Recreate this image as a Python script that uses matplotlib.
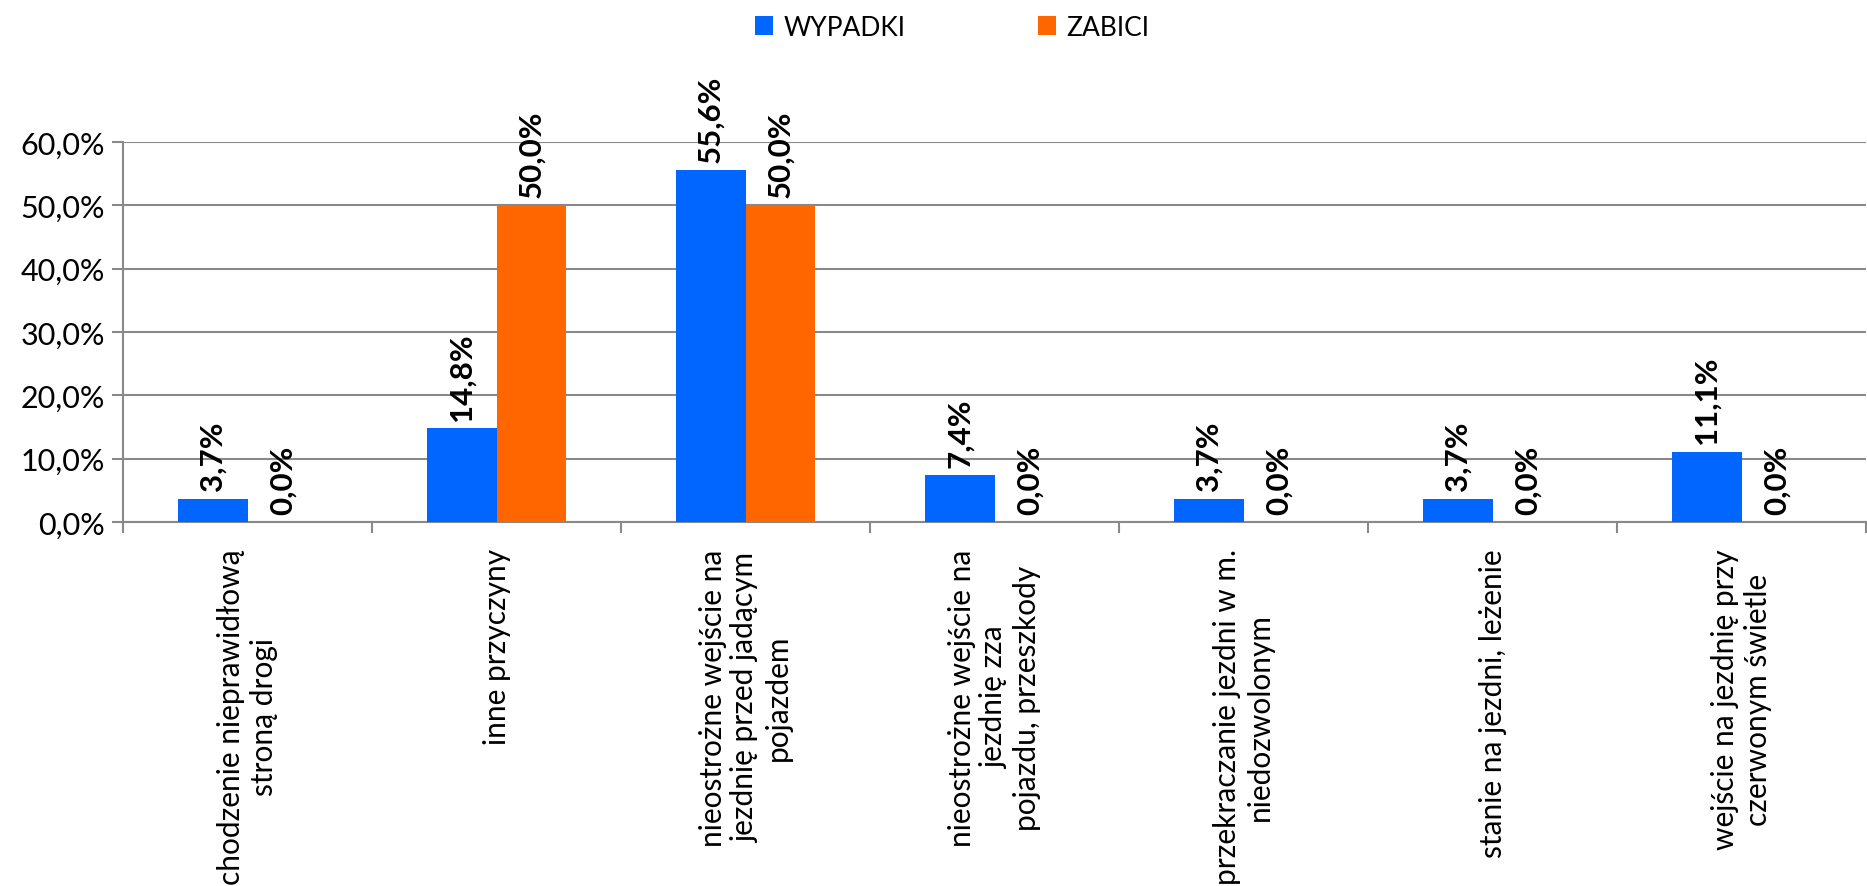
import numpy as np
import matplotlib
matplotlib.use("Agg")
import matplotlib.pyplot as plt
from matplotlib.ticker import FuncFormatter

plt.rcParams['font.family'] = ['Lato', 'DejaVu Sans']

categories = [
    "chodzenie nieprawidłową\nstroną drogi",
    "inne przyczyny",
    "nieostrożne wejście na\njezdnię przed jadącym\npojazdem",
    "nieostrożne wejście na\njezdnię zza\npojazdu, przeszkody",
    "przekraczanie jezdni w m.\nniedozwolonym",
    "stanie na jezdni, leżenie",
    "wejście na jezdnię przy\nczerwonym świetle",
]
wypadki = [3.7, 14.8, 55.6, 7.4, 3.7, 3.7, 11.1]
zabici = [0.0, 50.0, 50.0, 0.0, 0.0, 0.0, 0.0]
yticks = [0, 10, 20, 30, 40, 50, 60]

BLUE = "#0066FF"
ORANGE = "#FF6600"
GRID = "#898989"

fig = plt.figure(figsize=(18.67, 8.87), dpi=100)
ax = fig.add_axes([0.0659, 0.4104, 0.9336, 0.4284])

x = np.arange(len(categories))
w = 0.28
b1 = ax.bar(x - w / 2, wypadki, w, color=BLUE, label="WYPADKI", zorder=3)
b2 = ax.bar(x + w / 2, zabici, w, color=ORANGE, label="ZABICI", zorder=3)

def fmt(v):
    return ("%.1f%%" % v).replace(".", ",")

for bars, vals in ((b1, wypadki), (b2, zabici)):
    for r, v in zip(bars, vals):
        ax.annotate(fmt(v), (r.get_x() + r.get_width() / 2, r.get_height()),
                    xytext=(0, 6), textcoords="offset points",
                    rotation=90, ha="center", va="bottom",
                    fontsize=22.5, fontweight="bold", zorder=4)

ax.set_xlim(-0.5, len(categories) - 0.5)
ax.set_ylim(0, 60)
ax.set_yticks(yticks)
ax.yaxis.set_major_formatter(FuncFormatter(lambda v, p: fmt(v)))
ax.grid(axis="y", color=GRID, linewidth=1.5, zorder=0)

ax.set_xticks(x)
ax.set_xticklabels(categories, rotation=90, ha="center", va="top",
                   multialignment="center", fontsize=21.5)
ax.set_xticks(np.arange(len(categories) + 1) - 0.5, minor=True)
ax.tick_params(axis="x", which="major", length=0, pad=19)
ax.tick_params(axis="x", which="minor", length=8, width=1.5, color=GRID)
ax.tick_params(axis="y", length=8, width=1.5, color=GRID, labelsize=22, pad=5)

for s in ("top", "right"):
    ax.spines[s].set_visible(False)
for s in ("left", "bottom"):
    ax.spines[s].set_color(GRID)
    ax.spines[s].set_linewidth(1.5)

fig.legend(handles=[b1, b2], labels=["WYPADKI", "ZABICI"], loc="center",
           bbox_to_anchor=(0.51, 0.968), ncol=2, frameon=False,
           fontsize=19, handlelength=0.7, handleheight=0.7,
           handletextpad=0.4, columnspacing=5.0)

fig.savefig("out.png", dpi=100)
